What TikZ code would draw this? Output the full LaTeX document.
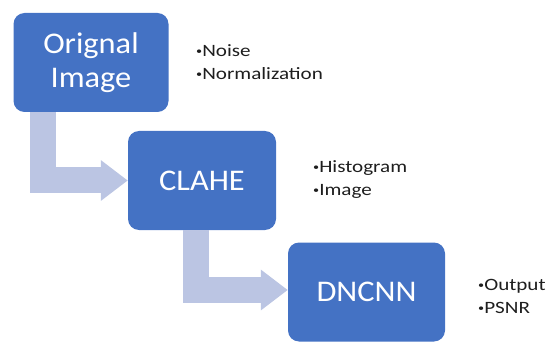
\documentclass[tikz,border=0pt]{standalone}
\usepackage{fontspec}
\setmainfont{Carlito}
\newfontfamily\boxfont[FakeStretch=1.08]{Carlito}
\newfontfamily\notefont[FakeStretch=1.22]{Carlito}
\usetikzlibrary{positioning,arrows.meta,calc}
\definecolor{stageblue}{HTML}{4472C4}
\definecolor{flowblue}{RGB}{187,197,227}
\definecolor{notegray}{RGB}{30,30,30}
\newcommand{\notedot}{\raisebox{2pt}{\fontsize{10}{10}\selectfont\textbullet}}

\begin{document}
\begin{tikzpicture}
  [
      x=1pt, y=-1pt,
      stage/.style={rectangle, rounded corners=11pt, fill=stageblue, text=white, minimum width=#1, minimum height=99pt, align=center, font=\boxfont\fontsize{30}{34}\selectfont},
      note/.style={anchor=base west, align=left, inner sep=0pt, text=notegray, font=\notefont\fontsize{17.3}{23}\selectfont},
      flow/.style={draw=flowblue, line width=26pt, -{Triangle[length=27pt, width=39pt]}}
    ]
    \useasboundingbox (0,0) rectangle (552,342);
    \node (orig) [stage=155pt] at (91,62.5) {Orignal\\Image};
    \node (clahe) [stage=148pt] at (202,180.5) {CLAHE};
    \node (dncnn) [stage=157pt] at (366.5,292) {DNCNN};
    \draw [flow] ([xshift=30pt]orig.south west) |- (clahe.west);
    \draw [flow] ([xshift=68pt]clahe.south west) |- ([yshift=2pt]dncnn.west);
    % base sits on the last line
    \node (origNote) [note] at (196,80) {\notedot Noise\\\notedot Normalization};
    \node (claheNote) [note] at (313,196) {\notedot Histogram\\\notedot Image};
    \node (dncnnNote) [note] at (478,313) {\notedot Output\\\notedot PSNR};
  \end{tikzpicture}
\end{document}
